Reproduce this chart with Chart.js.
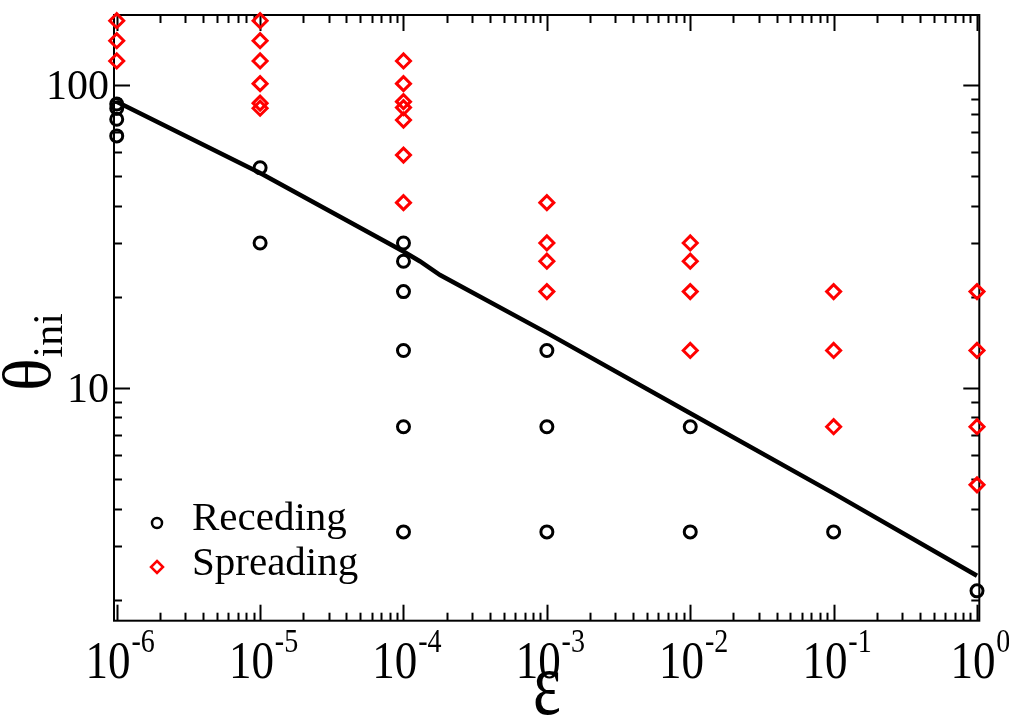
<!DOCTYPE html>
<html><head><meta charset="utf-8">
<script src="https://cdn.jsdelivr.net/npm/chart.js@4"></script>
<style>html,body{margin:0;padding:0;background:#fff}</style>
</head><body>
<canvas id="c" width="1009" height="718"></canvas>
<script>
// ---- data ----
const xTickExponents = [-6, -5, -4, -3, -2, -1, 0];
const yTickLabels = ['10', '100'];
const yTickValues = [10, 100];
const recedingEps = [1e-6, 1e-6, 1e-6, 1e-6, 1e-5, 1e-5, 1e-4, 1e-4, 1e-4, 1e-4, 1e-4, 1e-4, 1e-3, 1e-3, 1e-3, 1e-2, 1e-2, 1e-1, 1];
const recedingTheta = [86.5, 83.8, 77.1, 67.9, 53.3, 30.1, 30.1, 26.2, 20.8, 13.3, 7.45, 3.35, 13.3, 7.45, 3.35, 7.45, 3.35, 3.35, 2.14];
const spreadingEps = [1e-6, 1e-6, 1e-6, 1e-5, 1e-5, 1e-5, 1e-5, 1e-5, 1e-5, 1e-4, 1e-4, 1e-4, 1e-4, 1e-4, 1e-4, 1e-4, 1e-3, 1e-3, 1e-3, 1e-3, 1e-2, 1e-2, 1e-2, 1e-2, 1e-1, 1e-1, 1e-1, 1, 1, 1, 1];
const spreadingTheta = [163, 140, 120, 163, 140, 120, 101, 87.1, 83.8, 120, 101, 88.1, 84.2, 76.6, 58.7, 40.9, 40.9, 30.1, 26.2, 20.8, 30.1, 26.2, 20.8, 13.3, 20.8, 13.3, 7.45, 20.8, 13.3, 7.45, 4.79];
const lineEps = [1e-6, 1e-5, 1e-4, 1.3e-4, 1.8e-4, 1e-3, 1e-2, 1e-1, 1];
const lineTheta = [88.1, 51.2, 28.2, 26.2, 23.6, 15.2, 8.25, 4.49, 2.40];
const legendLabels = ['Receding', 'Spreading'];

const pts = (xs, ys) => xs.map((v, i) => ({x: v, y: ys[i]}));
const SERIF = '"Liberation Serif", "Times New Roman", serif';

const deco = {
  id: 'deco',
  beforeDatasetsDraw(chart) {
    const {ctx, chartArea: a, scales: {x, y}} = chart;
    ctx.save();
    ctx.strokeStyle = '#000';
    ctx.lineWidth = 2;
    const seg = (x1, y1, x2, y2) => { ctx.beginPath(); ctx.moveTo(x1, y1); ctx.lineTo(x2, y2); ctx.stroke(); };
    for (let e = -7; e <= 1; e++) {
      for (let m = 1; m <= 9; m++) {
        const v = m * Math.pow(10, e);
        if (v < x.min || v > x.max) continue;
        const p = Math.round(x.getPixelForValue(v)) + 0.5;
        const len = m === 1 ? 16 : 8;
        seg(p, a.bottom, p, a.bottom - len);
        seg(p, a.top, p, a.top + len);
      }
    }
    for (let e = -1; e <= 3; e++) {
      for (let m = 1; m <= 9; m++) {
        const v = m * Math.pow(10, e);
        if (v < y.min || v > y.max) continue;
        const p = Math.round(y.getPixelForValue(v)) + 0.5;
        const len = m === 1 ? 16 : 8;
        seg(a.left, p, a.left + len, p);
        seg(a.right, p, a.right - len, p);
      }
    }
    ctx.strokeRect(a.left, a.top, a.right - a.left, a.bottom - a.top);
    ctx.restore();
  },
  afterDraw(chart) {
    const {ctx, chartArea: a, scales: {x, y}} = chart;
    ctx.save();
    ctx.fillStyle = '#000';
    ctx.textBaseline = 'alphabetic';
    // x tick labels 10^e
    const sx = 0.85;
    xTickExponents.forEach(e => {
      const cx = x.getPixelForValue(Math.pow(10, e));
      const exp = String(e);
      ctx.font = '53px ' + SERIF;
      const wb = ctx.measureText('10').width * sx;
      ctx.font = '33px ' + SERIF;
      const we = ctx.measureText(exp).width * sx;
      const left = cx + 3 - (wb + we) / 2;
      ctx.save();
      ctx.translate(left, 0);
      ctx.scale(sx, 1);
      ctx.textAlign = 'left';
      ctx.font = '53px ' + SERIF;
      ctx.fillText('10', 0, 678);
      ctx.font = '33px ' + SERIF;
      ctx.fillText(exp, wb / sx + 1, 652);
      ctx.restore();
    });
    // y tick labels
    ctx.font = '42px ' + SERIF;
    ctx.textAlign = 'right';
    yTickValues.forEach((v, i) => {
      ctx.fillText(yTickLabels[i], 109, y.getPixelForValue(v) + 14.5);
    });
    // x title
    ctx.save();
    ctx.translate(547, 714);
    ctx.scale(0.95, 1.3);
    ctx.textAlign = 'center';
    ctx.font = '70px ' + SERIF;
    ctx.fillText('\u03B5', 0, 0);
    ctx.restore();
    // y title theta_ini, rotated
    ctx.save();
    ctx.translate(50, 391);
    ctx.rotate(-Math.PI / 2);
    ctx.textAlign = 'left';
    ctx.font = '68px ' + SERIF;
    ctx.fillText('\u03B8', 0, 0);
    const wt = ctx.measureText('\u03B8').width;
    ctx.font = '42px ' + SERIF;
    ctx.fillText('ini', wt + 1, 12);
    ctx.restore();
    // legend
    const ds = chart.data.datasets;
    ctx.lineWidth = 2.5;
    ctx.strokeStyle = ds[0].borderColor;
    ctx.beginPath(); ctx.arc(157, 523, 5, 0, Math.PI * 2); ctx.stroke();
    ctx.strokeStyle = ds[1].borderColor;
    ctx.beginPath();
    ctx.moveTo(157, 561); ctx.lineTo(163, 567); ctx.lineTo(157, 573); ctx.lineTo(151, 567); ctx.closePath();
    ctx.stroke();
    ctx.textAlign = 'left';
    ctx.font = '41px ' + SERIF;
    ctx.fillText(legendLabels[0], 192, 530);
    ctx.fillText(legendLabels[1], 192, 575);
    ctx.restore();
  }
};

new Chart(document.getElementById('c'), {
  type: 'scatter',
  data: {
    datasets: [
      {label: legendLabels[0], data: pts(recedingEps, recedingTheta), pointStyle: 'circle', pointRadius: 6,
       borderColor: '#000000', backgroundColor: 'rgba(0,0,0,0)', pointBorderWidth: 3, clip: false, order: 2},
      {label: legendLabels[1], data: pts(spreadingEps, spreadingTheta), pointStyle: 'rectRot', pointRadius: 7,
       borderColor: '#ff0000', backgroundColor: 'rgba(0,0,0,0)', pointBorderWidth: 3, clip: false, order: 3},
      {type: 'line', label: 'fit', data: pts(lineEps, lineTheta), showLine: true, pointRadius: 0,
       borderColor: '#000000', borderWidth: 4.5, tension: 0, fill: false, clip: false, order: 1}
    ]
  },
  options: {
    responsive: false,
    animation: false,
    devicePixelRatio: 1,
    layout: {padding: {left: 114, right: 29.7, top: 15, bottom: 97.3}},
    plugins: {legend: {display: false}, tooltip: {enabled: false}},
    scales: {
      x: {type: 'logarithmic', min: Math.pow(10, -6.019), max: Math.pow(10, 0.016), display: false},
      y: {type: 'logarithmic', min: 1.706, max: 170.2, display: false}
    }
  },
  plugins: [deco]
});
</script>
</body></html>
